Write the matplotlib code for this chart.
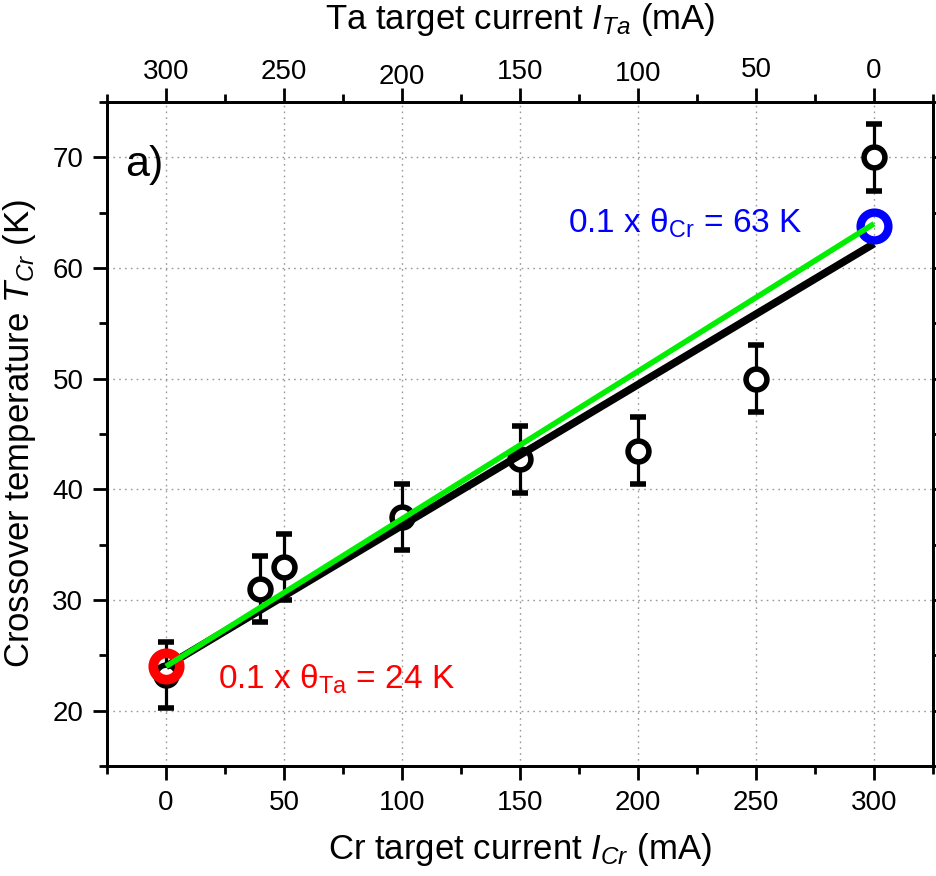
import matplotlib
matplotlib.use("Agg")
import matplotlib.pyplot as plt
from matplotlib.ticker import MultipleLocator
from matplotlib.transforms import ScaledTranslation

plt.rcParams['font.family'] = ['Liberation Sans', 'DejaVu Sans']
plt.rcParams['mathtext.fontset'] = 'custom'
plt.rcParams['mathtext.rm'] = 'Liberation Sans'
plt.rcParams['mathtext.it'] = 'Liberation Sans:italic'

# data
cr_current = [0, 40, 50, 100, 150, 200, 250, 300]
t_cross = [23.2, 31, 33, 37.5, 42.7, 43.5, 50, 70]
t_err = [3, 3, 3, 3, 3, 3, 3, 3]
ta_point = (0, 24)
cr_point = (300, 63.8)
black_fit_x = [0, 300]
black_fit_y = [24, 62.2]
green_fit_x = [0, 300]
green_fit_y = [24, 64]
bottom_ticks = [0, 50, 100, 150, 200, 250, 300]
top_labels = ['300', '250', '200', '150', '100', '50', '0']

fig = plt.figure(figsize=(9.37, 8.76), dpi=100)
ax = fig.add_axes([107/937, 1-766/876, (933-107)/937, (766-102)/876])

ax.grid(True, which='major', linestyle=(0, (1.2, 3)), color='#999999', linewidth=1.0)
ax.set_axisbelow(True)

ax.plot(black_fit_x, black_fit_y, color='black', lw=5.5, zorder=3, solid_capstyle='butt')
ax.plot(green_fit_x, green_fit_y, color='#00ee00', lw=4, zorder=4, solid_capstyle='butt')

ax.errorbar(cr_current, t_cross, yerr=t_err, fmt='o', mfc='white', mec='black', mew=4,
            ms=15, ecolor='black', elinewidth=2.3, capsize=6, capthick=2.3, zorder=2)
ax.plot([ta_point[0]], [ta_point[1]], 'o', mfc='none', mec='#ff0000', mew=7, ms=19, zorder=3.5)
ax.plot([cr_point[0]], [cr_point[1]], 'o', mfc='none', mec='#0000ff', mew=6, ms=20, zorder=3.5)

ax.set_xlim(-25, 325)
ax.set_ylim(15, 75)
ax.set_xticks(bottom_ticks)
ax.xaxis.set_minor_locator(MultipleLocator(25))
ax.set_yticks([20, 30, 40, 50, 60, 70])
ax.yaxis.set_minor_locator(MultipleLocator(5))
ax.tick_params(which='both', direction='out', width=2, labelsize=20, top=False, right=True)
ax.tick_params(which='major', length=10, pad=7)
ax.tick_params(which='minor', length=5.5)
for s in ax.spines.values():
    s.set_linewidth(2)

ax.set_xlabel(r'Cr target current $\mathit{I}_{\mathit{Cr}}$ (mA)', fontsize=25, labelpad=11)
ax.set_ylabel(r'Crossover temperature $\mathit{T}_{\mathit{Cr}}$ (K)', fontsize=25, labelpad=10)

top = ax.twiny()
top.set_xlim(ax.get_xlim())
top.set_xticks(bottom_ticks)
top.set_xticklabels(top_labels)
top.xaxis.set_minor_locator(MultipleLocator(25))
top.tick_params(which='both', direction='out', width=2, labelsize=20)
top.tick_params(which='major', length=10, pad=2)
top.tick_params(which='minor', length=5.5)
top.set_xlabel(r'Ta target current $\mathit{I}_{\mathit{Ta}}$ (mA)', fontsize=25, labelpad=20)
for s in top.spines.values():
    s.set_linewidth(2)
# slight vertical stagger of top tick labels as in the original
top_label_dy = [0, 0, -3, 0, -1, 2, 1]
for lab, dy in zip(top.get_xticklabels(), top_label_dy):
    lab.set_transform(lab.get_transform() + ScaledTranslation(0, dy / 72, fig.dpi_scale_trans))

ax.text(0.022, 0.905, 'a)', transform=ax.transAxes, fontsize=31, va='center', ha='left')
ax.text(0.558, 0.818, r'0.1 x θ$_{\mathrm{Cr}}$ = 63 K', transform=ax.transAxes,
        fontsize=24, color='#0000ff', va='center', ha='left')
ax.text(0.134, 0.13, r'0.1 x θ$_{\mathrm{Ta}}$ = 24 K', transform=ax.transAxes,
        fontsize=24, color='#ff0000', va='center', ha='left')

fig.savefig('out.png', dpi=100)
